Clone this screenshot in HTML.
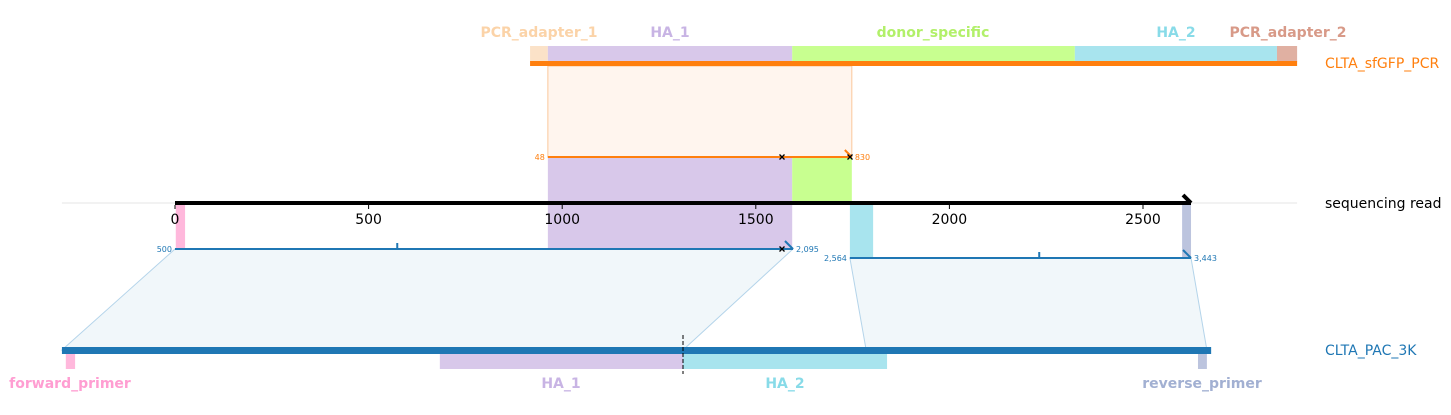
<!DOCTYPE html>
<html><head><meta charset="utf-8">
<style>
html,body{margin:0;padding:0;background:#fff;}
svg{display:block;font-family:"DejaVu Sans","Liberation Sans",sans-serif;}
</style></head>
<body>
<svg id="chart" width="1451" height="415" viewBox="0 0 1451 415"></svg>
<script>
// axis ticks (bp along sequencing read)
const tickValues = [0, 500, 1000, 1500, 2000, 2500];
const tickLabels = ["0", "500", "1000", "1500", "2000", "2500"];
// top construct (CLTA_sfGFP_PCR) features, in read-axis bp
const topNames = ["PCR_adapter_1", "HA_1", "donor_specific", "HA_2", "PCR_adapter_2"];
const topStarts = [917, 963, 1594, 2324, 2846];
const topEnds = [963, 1594, 2324, 2846, 2898];
const topColors = ["#fbe2c8", "#d8c8ea", "#c8ff90", "#a8e4ee", "#e0b0a2"];
const topLabelColors = ["#fbd3a8", "#c8b4e4", "#b2f06a", "#88dbe8", "#d89a88"];
// top alignment
const topAlign = [963, 1748];
const topAlignLabels = ["48", "830"];
// read axis range
const readRange = [0, 2624];
const gridRange = [-292, 2898];
// bottom alignments (read bp)
const botAlignStarts = [0, 1743];
const botAlignEnds = [1596, 2624];
const botAlignLabelsL = ["500", "2,564"];
const botAlignLabelsR = ["2,095", "3,443"];
const botAlignTicks = [574, 2232];
// bottom construct (CLTA_PAC_3K) extent and mapped polygon bottoms
const botConstruct = [-292, 2676];
const polyBottoms = [[-292, 1312], [1785, 2665]];
// bottom construct features
const botNames = ["forward_primer", "HA_1", "HA_2", "reverse_primer"];
const botStarts = [-282, 684, 1312, 2642];
const botEnds = [-258, 1312, 1839, 2665];
const botColors = ["#ffb8dc", "#d8c8ea", "#a8e4ee", "#bcc4de"];
const botLabelColors = ["#ff9ed2", "#c8b4e4", "#88dbe8", "#a2b0d2"];
// read features shown on read track
const readFeatStarts = [2, 963, 1594, 1743, 2601];
const readFeatEnds = [26, 1594, 1748, 1803, 2624];
const readFeatColors = ["#ffb8dc", "#d8c8ea", "#c8ff90", "#a8e4ee", "#bcc4de"];
const readFeatBottoms = [249, 249, 203, 258, 258];
const readFeatTops = [203, 157, 157, 203, 203];

const X0 = 175, SC = 0.3872;
const x = v => X0 + v * SC;
const svg = document.getElementById('chart');
const NS = 'http://www.w3.org/2000/svg';
function mk(tag, attrs, parent) {
  const e = document.createElementNS(NS, tag);
  for (const k in attrs) e.setAttribute(k, attrs[k]);
  (parent || svg).appendChild(e);
  return e;
}
function txt(s, attrs) { const t = mk('text', attrs); t.textContent = s; return t; }

let e = mk('line', {x1: x(gridRange[0]), x2: x(gridRange[1]), y1: 203, y2: 203, stroke: '#e4e4e4', 'stroke-width': 1});



e = mk('rect', {x: x(topAlign[0]), y: 66, width: x(topAlign[1]) - x(topAlign[0]), height: 91, fill: '#fff5ee', stroke: '#fbc89a', 'stroke-width': 1});



for (let i = 0; i < botAlignStarts.length; i++) {
  const yt = i === 0 ? 249 : 258;
  e = mk('polygon', {points: `${x(botAlignStarts[i])},${yt} ${x(botAlignEnds[i])},${yt} ${x(polyBottoms[i][1])},350 ${x(polyBottoms[i][0])},350`, fill: '#f1f7fa', stroke: '#b4d4ea', 'stroke-width': 1});
  
  
}

for (let i = 0; i < readFeatStarts.length; i++) {
  e = mk('rect', {x: x(readFeatStarts[i]), y: readFeatTops[i], width: x(readFeatEnds[i]) - x(readFeatStarts[i]), height: readFeatBottoms[i] - readFeatTops[i], fill: readFeatColors[i]});
  
  
}

for (let i = 0; i < topNames.length; i++) {
  e = mk('rect', {x: x(topStarts[i]), y: 46, width: x(topEnds[i]) - x(topStarts[i]), height: 16, fill: topColors[i]});
  
  
}
const topLabelX = [539, 670, 933, 1176, 1288];
for (let i = 0; i < topNames.length; i++) {
  e = txt(topNames[i], {x: topLabelX[i], y: 37, 'text-anchor': 'middle', 'font-size': 14, 'font-weight': 'bold', fill: topLabelColors[i]});
  
  
}
e = mk('rect', {x: x(topStarts[0]), y: 61, width: x(topEnds[4]) - x(topStarts[0]), height: 5, fill: '#ff7f0e'});


e = txt('CLTA_sfGFP_PCR', {x: 1325, y: 68, 'font-size': 14, fill: '#ff7f0e'});



e = mk('line', {x1: x(topAlign[0]), x2: x(topAlign[1]), y1: 157, y2: 157, stroke: '#ff7f0e', 'stroke-width': 2});


e = mk('line', {x1: x(topAlign[1]) - 7, y1: 150, x2: x(topAlign[1]), y2: 157, stroke: '#ff7f0e', 'stroke-width': 2});


e = txt(topAlignLabels[0], {x: x(topAlign[0]) - 3, y: 160, 'text-anchor': 'end', 'font-size': 8, fill: '#ff7f0e'});


e = txt(topAlignLabels[1], {x: x(topAlign[1]) + 3, y: 160, 'font-size': 8, fill: '#ff7f0e'});



function cross(cx, cy, name) {
  const g = mk('g', {stroke: '#000', 'stroke-width': 1.3});
  
  
  mk('line', {x1: cx - 2.5, y1: cy - 2.5, x2: cx + 2.5, y2: cy + 2.5}, g);
  mk('line', {x1: cx - 2.5, y1: cy + 2.5, x2: cx + 2.5, y2: cy - 2.5}, g);
}
cross(782, 157, 'top-mismatch-1');
cross(850, 157, 'top-mismatch-2');

for (let i = 0; i < botAlignStarts.length; i++) {
  const yl = i === 0 ? 249 : 258;
  const x1 = x(botAlignStarts[i]), x2 = x(botAlignEnds[i]);
  e = mk('line', {x1: x1, x2: x2, y1: yl, y2: yl, stroke: '#1f77b4', 'stroke-width': 2});
  
  
  e = mk('line', {x1: x2 - 8, y1: yl - 8, x2: x2, y2: yl, stroke: '#1f77b4', 'stroke-width': 2});
  
  
  e = mk('line', {x1: x(botAlignTicks[i]), x2: x(botAlignTicks[i]), y1: yl - 6, y2: yl, stroke: '#1f77b4', 'stroke-width': 2});
  
  
  e = txt(botAlignLabelsL[i], {x: x1 - 3, y: yl + 3, 'text-anchor': 'end', 'font-size': 8, fill: '#1f77b4'});
  
  
  e = txt(botAlignLabelsR[i], {x: x2 + 3, y: yl + 3, 'font-size': 8, fill: '#1f77b4'});
  
  
}
cross(782, 249, 'bottom-mismatch-1');

e = mk('line', {x1: x(readRange[0]), x2: x(readRange[1]), y1: 203, y2: 203, stroke: '#000', 'stroke-width': 4});


e = mk('polyline', {points: `${x(readRange[1]) - 8},195 ${x(readRange[1])},203`, stroke: '#000', 'stroke-width': 4, fill: 'none'});


for (let i = 0; i < tickValues.length; i++) {
  e = mk('line', {x1: x(tickValues[i]), x2: x(tickValues[i]), y1: 205, y2: 209, stroke: '#000', 'stroke-width': 1});
  
  
  e = txt(tickLabels[i], {x: x(tickValues[i]), y: 224, 'text-anchor': 'middle', 'font-size': 14, fill: '#000'});
  
  
}
e = txt('sequencing read', {x: 1325, y: 208, 'font-size': 14, fill: '#000'});



for (let i = 0; i < botNames.length; i++) {
  e = mk('rect', {x: x(botStarts[i]), y: 354, width: x(botEnds[i]) - x(botStarts[i]), height: 15, fill: botColors[i]});
  
  
}
const botLabelX = [70, 561, 785, 1202];
for (let i = 0; i < botNames.length; i++) {
  e = txt(botNames[i], {x: botLabelX[i], y: 388, 'text-anchor': 'middle', 'font-size': 14, 'font-weight': 'bold', fill: botLabelColors[i]});
  
  
}
e = mk('rect', {x: x(botConstruct[0]), y: 347, width: x(botConstruct[1]) - x(botConstruct[0]), height: 7, fill: '#1f77b4'});


e = mk('line', {x1: x(1312), x2: x(1312), y1: 335, y2: 374, stroke: '#000', 'stroke-width': 1, 'stroke-dasharray': '4,2'});


e = txt('CLTA_PAC_3K', {x: 1325, y: 355, 'font-size': 14, fill: '#1f77b4'});


</script>
</body></html>
